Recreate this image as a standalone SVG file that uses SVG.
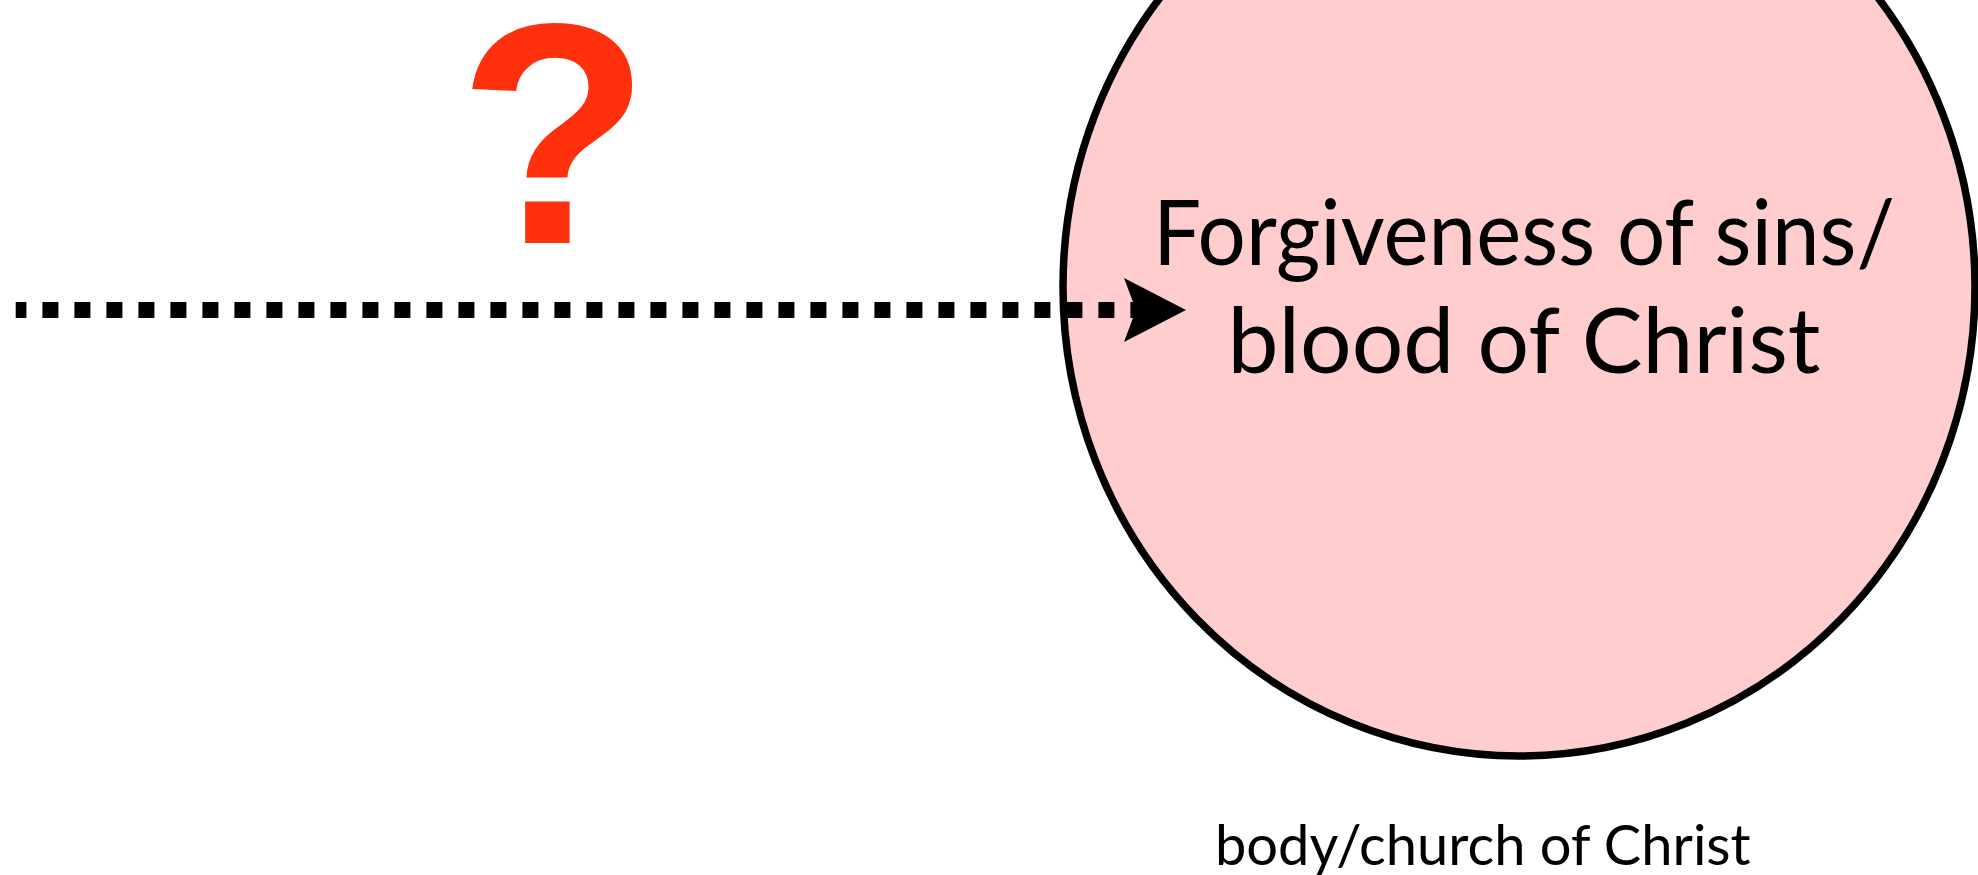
<svg xmlns="http://www.w3.org/2000/svg" width="1978" height="875" viewBox="0 0 1978 875">
  <style>
    .label { font-family: Lato, "Noto Sans", "Liberation Sans", sans-serif; fill: #000000; }
    .big { font-size: 92px; }
    .small { font-size: 56px; }
    .qmark { font-family: "Liberation Sans", Arial, sans-serif; font-weight: bold; font-size: 315px; fill: #FF300C; }
    .dotted { stroke: #000000; stroke-width: 16; stroke-dasharray: 16 16; fill: none; }
  </style>
  <defs>
    <marker id="arrowhead" markerUnits="userSpaceOnUse" markerWidth="64" markerHeight="66" refX="12" refY="33" orient="auto">
      <polygon points="0,1 62,33 0,65 12,33" fill="#000000"/>
    </marker>
  </defs>
  <rect x="0" y="0" width="1978" height="875" fill="#FFFFFF"/>
  <g id="node-body">
    <ellipse cx="1519" cy="287" rx="456" ry="469" fill="#FFCDCD" stroke="#000000" stroke-width="7.5"/>
    <text class="label big" x="1524" y="265" text-anchor="middle" textLength="742" lengthAdjust="spacingAndGlyphs">Forgiveness of sins/</text>
    <text class="label big" x="1524" y="373" text-anchor="middle" textLength="593" lengthAdjust="spacingAndGlyphs">blood of Christ</text>
  </g>
  <g id="node-caption">
    <text class="label small" x="1215" y="865">body/church of Christ</text>
  </g>
  <g id="node-question">
    <text class="qmark" x="554" y="243" text-anchor="middle">?</text>
  </g>
  <g id="connectors">
    <line class="dotted" x1="15.7" y1="310" x2="1136" y2="310" stroke-dashoffset="5.3" marker-end="url(#arrowhead)"/>
  </g>
</svg>
